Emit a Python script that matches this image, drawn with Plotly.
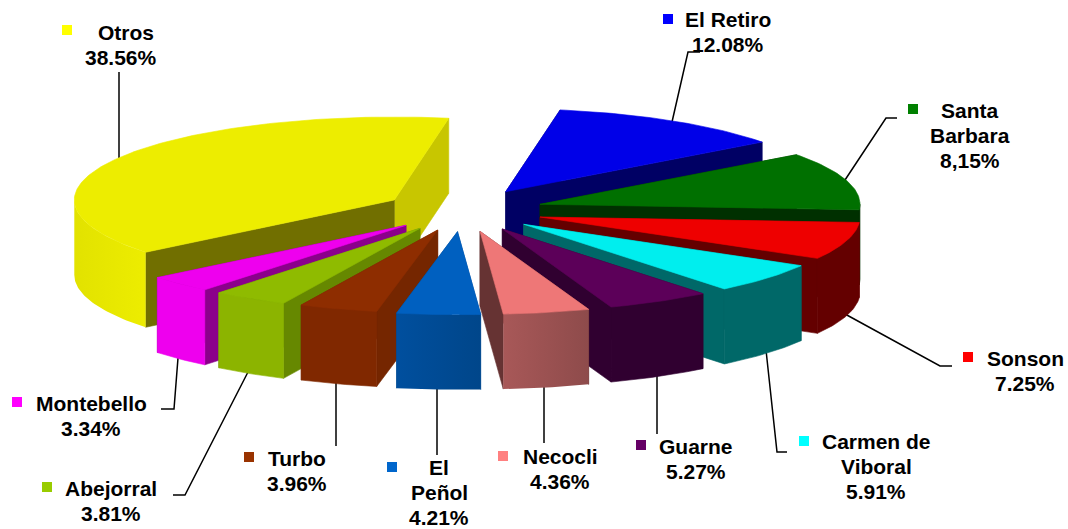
import math
import plotly.graph_objects as go

# ---------- data ----------
names = ["El Retiro", "Santa Barbara", "Sonson", "Carmen de Viboral", "Guarne", "Necocli",
         "El Peñol", "Turbo", "Abejorral", "Montebello", "Otros"]
# angular share actually drawn in the picture (the Santa Barbara slice is wider than its printed label)
slice_values = [12.08, 11.25, 7.25, 5.91, 5.27, 4.36, 4.21, 3.96, 3.81, 3.34, 38.56]
printed_labels = ["El Retiro<br>12.08%", "Santa<br>Barbara<br>8,15%", "Sonson<br>7.25%",
                  "Carmen de<br>Viboral<br>5.91%", "Guarne<br>5.27%", "Necocli<br>4.36%",
                  "El<br>Peñol<br>4.21%", "Turbo<br>3.96%", "Abejorral<br>3.81%",
                  "Montebello<br>3.34%", "Otros<br>38.56%"]

# ---------- styles / layout ----------
top_colors = ["#0000E8", "#007000", "#EE0000", "#00EEEE", "#5C0059", "#EE7777",
              "#0060C0", "#8E2D00", "#8FBB00", "#EE00EE", "#EDED00"]
cut_start = ["#000064", "#003000", "#640000", "#006868", "#300030", "#663333",
             "#004F9E", "#752600", "#668800", "#8B008B", "#716F00"]
cut_end = ["#000064", "#003000", "#640000", "#006868", "#300030", "#663333",
           "#00468A", "#752600", "#668800", "#8B008B", "#C8C600"]
wall_left = ["#000064", "#003000", "#640000", "#006868", "#300030", "#A85858",
             "#004F9E", "#802800", "#8CB400", "#EE00EE", "#E2E200"]
wall_right = ["#000064", "#003000", "#640000", "#006868", "#300030", "#8E4B4B",
              "#00468A", "#802800", "#8CB400", "#EE00EE", "#EDED00"]
key_colors = ["#0000FF", "#008000", "#FF0000", "#00FFFF", "#660066", "#FF8080",
              "#0066CC", "#993300", "#99CC00", "#FF00FF", "#FFFF00"]
vertex_x = [505.7, 540, 540, 523.7, 502.3, 480, 457.5, 437.7, 420, 406, 394.3]
vertex_y = [191.7, 204.3, 217, 224.3, 229, 231.3, 231.7, 230, 228.3, 225.3, 200]
label_x = [728, 970, 1025, 876, 696, 560, 439, 297, 111, 91, 121]
label_y = [32, 135, 371, 466, 459, 469, 492, 471, 501, 416, 45]
first_line_dx = [0, 0, 0, 0, 0, 0, 0, 0, 0, 0, 5]
key_x = [668, 913, 968, 804, 641, 503, 392, 249, 47, 17, 67]
key_y = [19, 109, 357, 441, 445, 456, 467, 457, 487, 402, 30]
leader_x = [[672, 688, 700], [845, 886, 897], [845, 940, 952], [766, 777, 787], [657, 657], [544, 544],
            [437, 437], [336, 336], [248, 185, 173], [178, 174, 161], [119, 119]]
leader_y = [[122, 52, 52], [180, 118, 118], [314, 366, 366], [350, 452, 452], [376, 434], [386, 443],
            [388, 455], [383, 446], [372, 495, 495], [358, 409, 409], [158, 72]]
draw_order = [10, 0, 1, 2, 3, 4, 9, 8, 7, 5, 6]

RX, RY, DEPTH, START = 320, 83, 75, 9.8
LINE_STEP = 25


def arc(i, a, b):
    n = max(2, int(abs(b - a)) + 2)
    xs, ys = [], []
    for k in range(n):
        t = math.radians(a + (b - a) * k / (n - 1))
        xs.append(vertex_x[i] + RX * math.sin(t))
        ys.append(vertex_y[i] - RY * math.cos(t))
    return xs, ys


def poly(xs, ys, color, grad=None):
    kw = dict(x=xs + xs[:1], y=ys + ys[:1], mode="lines", fill="toself",
              hoverinfo="skip", showlegend=False)
    if grad:
        kw["line"] = dict(width=0)
        kw["fillgradient"] = dict(type="horizontal", colorscale=[[0, grad[0]], [1, grad[1]]])
    else:
        kw["line"] = dict(width=0.6, color=color)
        kw["fillcolor"] = color
    return go.Scatter(**kw)


fig = go.Figure()
for lx, ly in zip(leader_x, leader_y):
    fig.add_trace(go.Scatter(x=lx, y=ly, mode="lines", line=dict(color="#000000", width=1.5),
                             hoverinfo="skip", showlegend=False))

scale = 360 / sum(slice_values)
starts = [START + scale * sum(slice_values[:i]) for i in range(len(slice_values))]
for i in draw_order:
    a = starts[i]
    b = a + scale * slice_values[i]
    vx, vy = vertex_x[i], vertex_y[i]
    # cut faces: the hidden one first
    faces = [(a, cut_start[i]), (b, cut_end[i])]
    if (a + b) / 2 > 180:
        faces.reverse()
    for ang, col in faces:
        ex, ey = arc(i, ang, ang + 0.001)
        px, py = ex[0], ey[0]
        fig.add_trace(poly([vx, px, px, vx], [vy, py, py + DEPTH, vy + DEPTH], col))
    # outer wall: only the part of the rim that faces the viewer
    w0, w1 = max(a, 90), min(b, 270)
    if w1 > w0:
        ax, ay = arc(i, w0, w1)
        wx = ax + ax[::-1]
        wy = ay + [v + DEPTH for v in ay[::-1]]
        if wall_left[i] == wall_right[i]:
            fig.add_trace(poly(wx, wy, wall_left[i]))
        else:
            fig.add_trace(poly(wx, wy, None, grad=(wall_left[i], wall_right[i])))
    # top face
    ax, ay = arc(i, a, b)
    fig.add_trace(poly([vx] + ax, [vy] + ay, top_colors[i]))

shapes = [dict(type="rect", xref="x", yref="y", x0=x - 5, x1=x + 5, y0=y - 5, y1=y + 5,
               fillcolor=c, line=dict(width=0), layer="above")
          for x, y, c in zip(key_x, key_y, key_colors)]
annotations = []
for x, y, t, dx in zip(label_x, label_y, printed_labels, first_line_dx):
    lines = t.split("<br>")
    for k, line in enumerate(lines):
        annotations.append(dict(
            x=x + (dx if k == 0 else 0), y=y + (k - (len(lines) - 1) / 2) * LINE_STEP, xref="x", yref="y",
            text=f"<b>{line}</b>", showarrow=False, xanchor="center", yanchor="middle",
            font=dict(family="Liberation Sans, Arial, sans-serif", size=21, color="#000000")))

fig.update_layout(
    width=1068, height=529, margin=dict(l=0, r=0, t=0, b=0),
    paper_bgcolor="#FFFFFF", plot_bgcolor="#FFFFFF", showlegend=False,
    xaxis=dict(range=[0, 1068], visible=False, fixedrange=True),
    yaxis=dict(range=[529, 0], visible=False, fixedrange=True),
    shapes=shapes, annotations=annotations,
)
fig.write_html("out.html", config={"displayModeBar": False},
               post_script="document.body.style.margin='0';document.body.style.overflow='hidden';")
